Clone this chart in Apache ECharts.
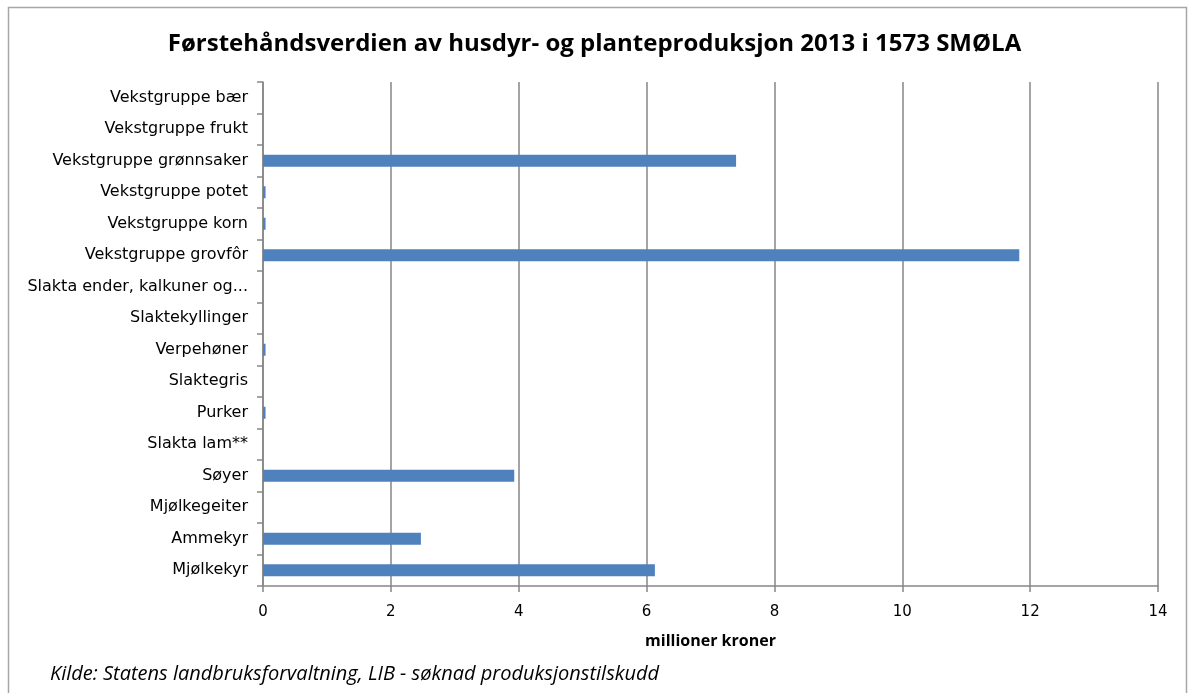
<!DOCTYPE html>
<html><head><meta charset="utf-8">
<script src="https://cdn.jsdelivr.net/npm/echarts@6/dist/echarts.min.js"></script>
<style>html,body{margin:0;padding:0;background:#fff}#c{width:1189px;height:693px}</style>
</head><body><div id="c"></div>
<script>
const categories = ["Mjølkekyr","Ammekyr","Mjølkegeiter","Søyer","Slakta lam**","Purker","Slaktegris","Verpehøner","Slaktekyllinger","Slakta ender, kalkuner og...","Vekstgruppe grovfôr","Vekstgruppe korn","Vekstgruppe potet","Vekstgruppe grønnsaker","Vekstgruppe frukt","Vekstgruppe bær"];
const values = [6.13,2.47,0,3.93,0,0.04,0,0.04,0,0,11.83,0.04,0.04,7.40,0,0];
const xTicks = [0,2,4,6,8,10,12,14];
const chart = echarts.init(document.getElementById('c'));
chart.setOption({
  animation:false,
  title:{text:"Førstehåndsverdien av husdyr- og planteproduksjon 2013 i 1573 SMØLA",left:'center',top:27,
    textStyle:{fontFamily:'Open Sans',fontWeight:'bold',fontSize:24,color:'#000'}},
  graphic:[{type:'rect',shape:{x:8.5,y:7.5,width:1178,height:700},style:{fill:'none',stroke:'#a6a6a6',lineWidth:1.5}},
    {type:'text',left:50,top:664,style:{text:"Kilde: Statens landbruksforvaltning, LIB - søknad produksjonstilskudd",font:'italic 20px "Open Sans"',fill:'#000'}}],
  grid:{left:263,right:31,top:82,bottom:107,containLabel:false},
  xAxis:{type:'value',min:0,max:14,interval:2,
    name:'millioner kroner',nameLocation:'middle',nameGap:47,
    nameTextStyle:{fontFamily:'Open Sans',fontWeight:'bold',fontSize:16,color:'#000'},
    axisLine:{show:true,lineStyle:{color:'#868686',width:1.5}},
    axisTick:{show:true,length:6,lineStyle:{color:'#868686',width:1.5}},
    axisLabel:{fontFamily:'DejaVu Sans',fontSize:15,color:'#000',margin:19,formatter:v=>xTicks.includes(v)?String(v):''},
    splitLine:{show:true,lineStyle:{color:'#868686',width:1.5}}},
  yAxis:{type:'category',data:categories,
    axisLine:{show:true,lineStyle:{color:'#868686',width:1.5}},
    axisTick:{show:true,length:6,inside:false,lineStyle:{color:'#868686',width:1.5}},
    axisLabel:{fontFamily:'DejaVu Sans',fontSize:16,color:'#000',margin:15},
    splitLine:{show:false}},
  series:[{type:'bar',data:values,barWidth:12,itemStyle:{color:'#4f81bd'}}]
});
</script></body></html>
